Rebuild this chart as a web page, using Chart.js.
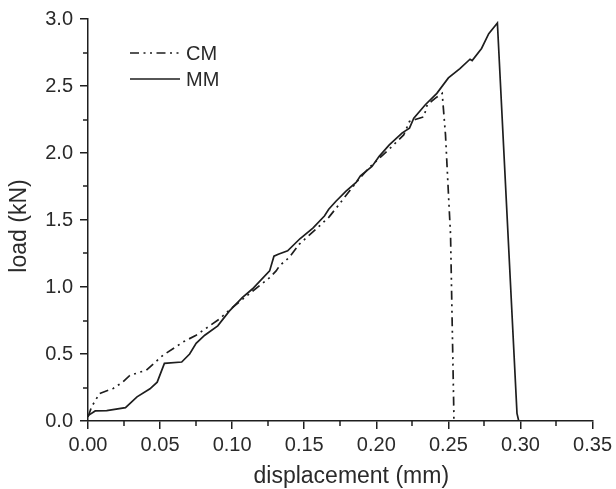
<!DOCTYPE html>
<html>
<head>
<meta charset="utf-8">
<script src="https://cdn.jsdelivr.net/npm/chart.js@4.4.0/dist/chart.umd.min.js"></script>
<style>
  html, body { margin: 0; padding: 0; background: #fff; }
  #wrap { width: 616px; height: 489px; }
</style>
</head>
<body>
<div id="wrap"><canvas id="loadChart" width="616" height="489"></canvas></div>
<script>
// CM curve (dash-dot-dot)
const cmX = [0, 0.0025, 0.008, 0.0175, 0.024, 0.029, 0.0405, 0.052, 0.066, 0.075, 0.091, 0.1005,
  0.112, 0.126, 0.1305, 0.133, 0.1395, 0.1466, 0.158, 0.167, 0.173, 0.1766, 0.186, 0.195, 0.202,
  0.210, 0.219, 0.223, 0.227, 0.233, 0.2353, 0.241, 0.2457, 0.248, 0.2503, 0.2515, 0.2538, 0.2538];
const cmY = [0.03, 0.106, 0.205, 0.243, 0.29, 0.34, 0.38, 0.49, 0.59, 0.64, 0.76, 0.85,
  0.95, 1.07, 1.12, 1.16, 1.22, 1.32, 1.43, 1.52, 1.60, 1.65, 1.78, 1.89, 1.96,
  2.04, 2.135, 2.235, 2.25, 2.27, 2.36, 2.41, 2.445, 2.135, 1.64, 1.39, 0.057, 0];

// MM curve (solid)
const mmX = [0, 0.005, 0.013, 0.026, 0.034, 0.043, 0.048, 0.053, 0.065, 0.0705, 0.075, 0.081,
  0.090, 0.098, 0.107, 0.114, 0.126, 0.129, 0.132, 0.1385, 0.147, 0.156, 0.164, 0.167, 0.172,
  0.179, 0.186, 0.189, 0.197, 0.202, 0.209, 0.218, 0.223, 0.226, 0.234, 0.242, 0.250, 0.258,
  0.265, 0.2665, 0.273, 0.278, 0.284, 0.2976, 0.2988];
const mmY = [0.04, 0.075, 0.077, 0.10, 0.18, 0.24, 0.29, 0.43, 0.44, 0.50, 0.58, 0.64,
  0.71, 0.82, 0.92, 0.985, 1.12, 1.23, 1.245, 1.27, 1.36, 1.44, 1.53, 1.58, 1.64,
  1.715, 1.78, 1.83, 1.90, 1.975, 2.06, 2.15, 2.185, 2.26, 2.36, 2.445, 2.56, 2.63,
  2.70, 2.69, 2.78, 2.89, 2.97, 0.057, 0];

const seriesNames = ["CM", "MM"];
const xTitle = "displacement (mm)";
const yTitle = "load (kN)";

const INK = "#1e1e1e";
const TEXT = "#2a2a2a";
const CM_DASH = [9, 4.5, 2, 4.5, 2, 4.5];
const FAMILY = "'Liberation Sans', Arial, sans-serif";

const toPoints = (xs, ys) => xs.map((x, i) => ({ x, y: ys[i] }));

// short minor ticks between the labelled ones
const minorTicks = {
  id: "minorTicks",
  afterDraw(chart) {
    const { ctx, scales: { x, y } } = chart;
    ctx.save();
    ctx.strokeStyle = INK;
    ctx.lineWidth = 1.5;
    for (let i = 0; i < 7; i++) {
      const px = Math.round(x.getPixelForValue(0.025 + i * 0.05));
      ctx.beginPath();
      ctx.moveTo(px, x.top);
      ctx.lineTo(px, x.top + 5);
      ctx.stroke();
    }
    for (let i = 0; i < 6; i++) {
      const py = Math.round(y.getPixelForValue(0.25 + i * 0.5));
      ctx.beginPath();
      ctx.moveTo(y.right, py);
      ctx.lineTo(y.right - 5, py);
      ctx.stroke();
    }
    ctx.restore();
  }
};

// legend inside the plot + axis titles (a bit off-centre, like the original)
const annotations = {
  id: "annotations",
  afterDraw(chart) {
    const { ctx, chartArea } = chart;
    const x0 = chartArea.left + 42;
    const y0 = chartArea.top + 34;
    ctx.save();
    ctx.strokeStyle = INK;
    ctx.fillStyle = TEXT;
    ctx.lineWidth = 1.6;
    ctx.font = `20px ${FAMILY}`;
    ctx.textBaseline = "middle";
    chart.data.datasets.forEach((ds, i) => {
      const ly = y0 + i * 26;
      ctx.setLineDash(ds.borderDash || []);
      ctx.beginPath();
      ctx.moveTo(x0, ly);
      ctx.lineTo(x0 + 50, ly);
      ctx.stroke();
      ctx.setLineDash([]);
      ctx.fillText(ds.label, x0 + 56, ly + 1);
    });

    ctx.font = `23px ${FAMILY}`;
    ctx.textAlign = "center";
    const midX = (chartArea.left + chartArea.right) / 2;
    const midY = (chartArea.top + chartArea.bottom) / 2;
    ctx.fillText(xTitle, midX + 11, chartArea.bottom + 56);
    ctx.translate(19, midY + 6);
    ctx.rotate(-Math.PI / 2);
    ctx.fillText(yTitle, 0, 1);
    ctx.restore();
  }
};

const tickFont = { family: FAMILY, size: 20 };

new Chart(document.getElementById("loadChart").getContext("2d"), {
  type: "line",
  data: {
    datasets: [
      {
        label: seriesNames[0],
        data: toPoints(cmX, cmY),
        borderColor: INK,
        borderWidth: 1.7,
        borderDash: CM_DASH,
        pointRadius: 0,
        tension: 0
      },
      {
        label: seriesNames[1],
        data: toPoints(mmX, mmY),
        borderColor: INK,
        borderWidth: 1.7,
        pointRadius: 0,
        tension: 0
      }
    ]
  },
  options: {
    responsive: false,
    animation: false,
    layout: { padding: { top: 17, right: 22, left: 0, bottom: 0 } },
    plugins: {
      legend: { display: false },
      tooltip: { enabled: false }
    },
    scales: {
      x: {
        type: "linear",
        min: 0,
        max: 0.35,
        afterFit: (s) => { s.height = 68; },
        border: { color: INK, width: 1.5 },
        grid: { drawOnChartArea: false, drawTicks: true, tickLength: 8, color: INK, lineWidth: 1.5 },
        ticks: {
          stepSize: 0.05,
          color: TEXT,
          font: tickFont,
          padding: 4,
          maxRotation: 0,
          callback: (v) => v.toFixed(2)
        }
      },
      y: {
        min: 0,
        max: 3,
        afterFit: (s) => { s.width = 88; },
        border: { color: INK, width: 1.5 },
        grid: { drawOnChartArea: false, drawTicks: true, tickLength: 8, color: INK, lineWidth: 1.5 },
        ticks: {
          stepSize: 0.5,
          color: TEXT,
          font: tickFont,
          padding: 7,
          callback: (v) => v.toFixed(1)
        }
      }
    }
  },
  plugins: [minorTicks, annotations]
});
</script>
</body>
</html>
